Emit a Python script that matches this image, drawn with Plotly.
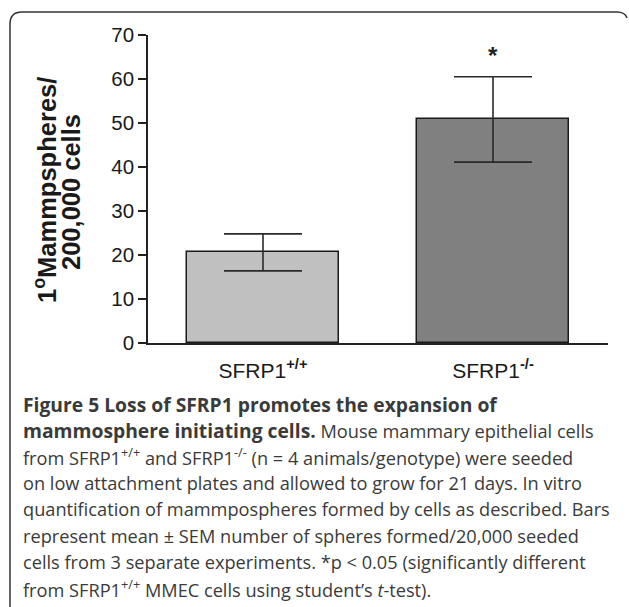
import plotly.graph_objects as go

# ---- data ----
categories = ["SFRP1<sup><b>+/+</b></sup>", "SFRP1<sup><b>-/-</b></sup>"]
values = [20.6, 50.8]
sem = [4.2, 9.7]
bar_colors = ["#c0c0c0", "#808080"]
y_ticks = [0, 10, 20, 30, 40, 50, 60, 70]
significance = ["", "*"]

BOLD = '<span style="font-size:19.3px"><b>{}</b></span>'
caption_lines = [
    BOLD.format("Figure 5 Loss of SFRP1 promotes the expansion of"),
    BOLD.format("mammosphere initiating cells.") + " Mouse mammary epithelial cells",
    "from SFRP1<sup>+/+</sup> and SFRP1<sup>-/-</sup> (n = 4 animals/genotype) were seeded",
    "on low attachment plates and allowed to grow for 21 days. In vitro",
    "quantification of mammpospheres formed by cells as described. Bars",
    "represent mean \u00b1 SEM number of spheres formed/20,000 seeded",
    "cells from 3 separate experiments. *p &lt; 0.05 (significantly different",
    "from SFRP1<sup>+/+</sup> MMEC cells using student\u2019s <i>t</i>-test).",
]

# ---- layout geometry (pixels) ----
W, H = 629, 607
L, R, T, B = 148, 608, 35, 343


def px(xp):
    return (xp - L) / (R - L)


def py(yp):
    return (B - yp) / (B - T)


fig = go.Figure()
fig.add_trace(go.Bar(
    x=[0, 1], y=values, width=0.665,
    marker=dict(color=bar_colors, line=dict(color="#1a1a1a", width=1.5)),
    error_y=dict(type="data", array=sem, visible=True, color="#2a2a2a",
                 thickness=1.6, width=39),
    showlegend=False,
))

annotations = []
for i, s in enumerate(significance):
    if s:
        annotations.append(dict(x=i, y=values[i] + sem[i], xref="x", yref="y",
                                text="<b>" + s + "</b>", showarrow=False, yanchor="bottom",
                                yshift=6,
                                font=dict(family="Arial", size=24, color="#222")))

# y-axis title as two lines
annotations.append(dict(x=px(45), y=py(190), xref="paper", yref="paper",
                        text="<b>1<sup>o</sup>Mammpspheres/</b>", textangle=-90,
                        showarrow=False, xanchor="center", yanchor="middle",
                        font=dict(family="Arial", size=25.5, color="#1a1a1a")))
annotations.append(dict(x=px(71), y=py(192), xref="paper", yref="paper",
                        text="<b>200,000 cells</b>", textangle=-90,
                        showarrow=False, xanchor="center", yanchor="middle",
                        font=dict(family="Arial", size=25.5, color="#1a1a1a")))

for i, line in enumerate(caption_lines):
    annotations.append(dict(x=px(21), y=py(404 + 26.3 * i), xref="paper", yref="paper",
                            text=line, showarrow=False, xanchor="left", yanchor="middle",
                            font=dict(family="Open Sans", size=18.2, color="#3a3a3a")))

# frame with rounded top corners
x0, x1, yt = px(10), px(627), py(12)
ybot = py(607)
path = (f"M {x0},{ybot} L {x0},{py(24)} Q {x0},{yt} {px(22)},{yt} "
        f"L {px(617)},{yt} Q {px(625)},{yt} {x1},{py(18)}")
shapes = [dict(type="path", xref="paper", yref="paper", path=path,
               line=dict(color="#333", width=1.5))]

fig.update_layout(
    width=W, height=H,
    margin=dict(l=L, r=W - R, t=T, b=H - B, pad=0),
    plot_bgcolor="white", paper_bgcolor="white",
    bargap=0,
    annotations=annotations,
    shapes=shapes,
    xaxis=dict(range=[-0.5, 1.5], tickvals=[0, 1], ticktext=categories,
               showline=True, linecolor="#222", linewidth=1.5,
               ticks="", showgrid=False, zeroline=False,
               ticklabelstandoff=8,
               tickfont=dict(family="Arial", size=21, color="#1a1a1a")),
    yaxis=dict(range=[0, 70], tickvals=y_ticks, showline=True,
               linecolor="#222", linewidth=1.5, ticks="outside", ticklen=8,
               tickwidth=1.5, tickcolor="#222", showgrid=False, zeroline=False,
               tickfont=dict(family="Arial", size=20.5, color="#1a1a1a")),
)

fig.write_html("out.html", config={"displayModeBar": False},
               post_script="document.body.style.margin='0';document.body.style.padding='0';")
